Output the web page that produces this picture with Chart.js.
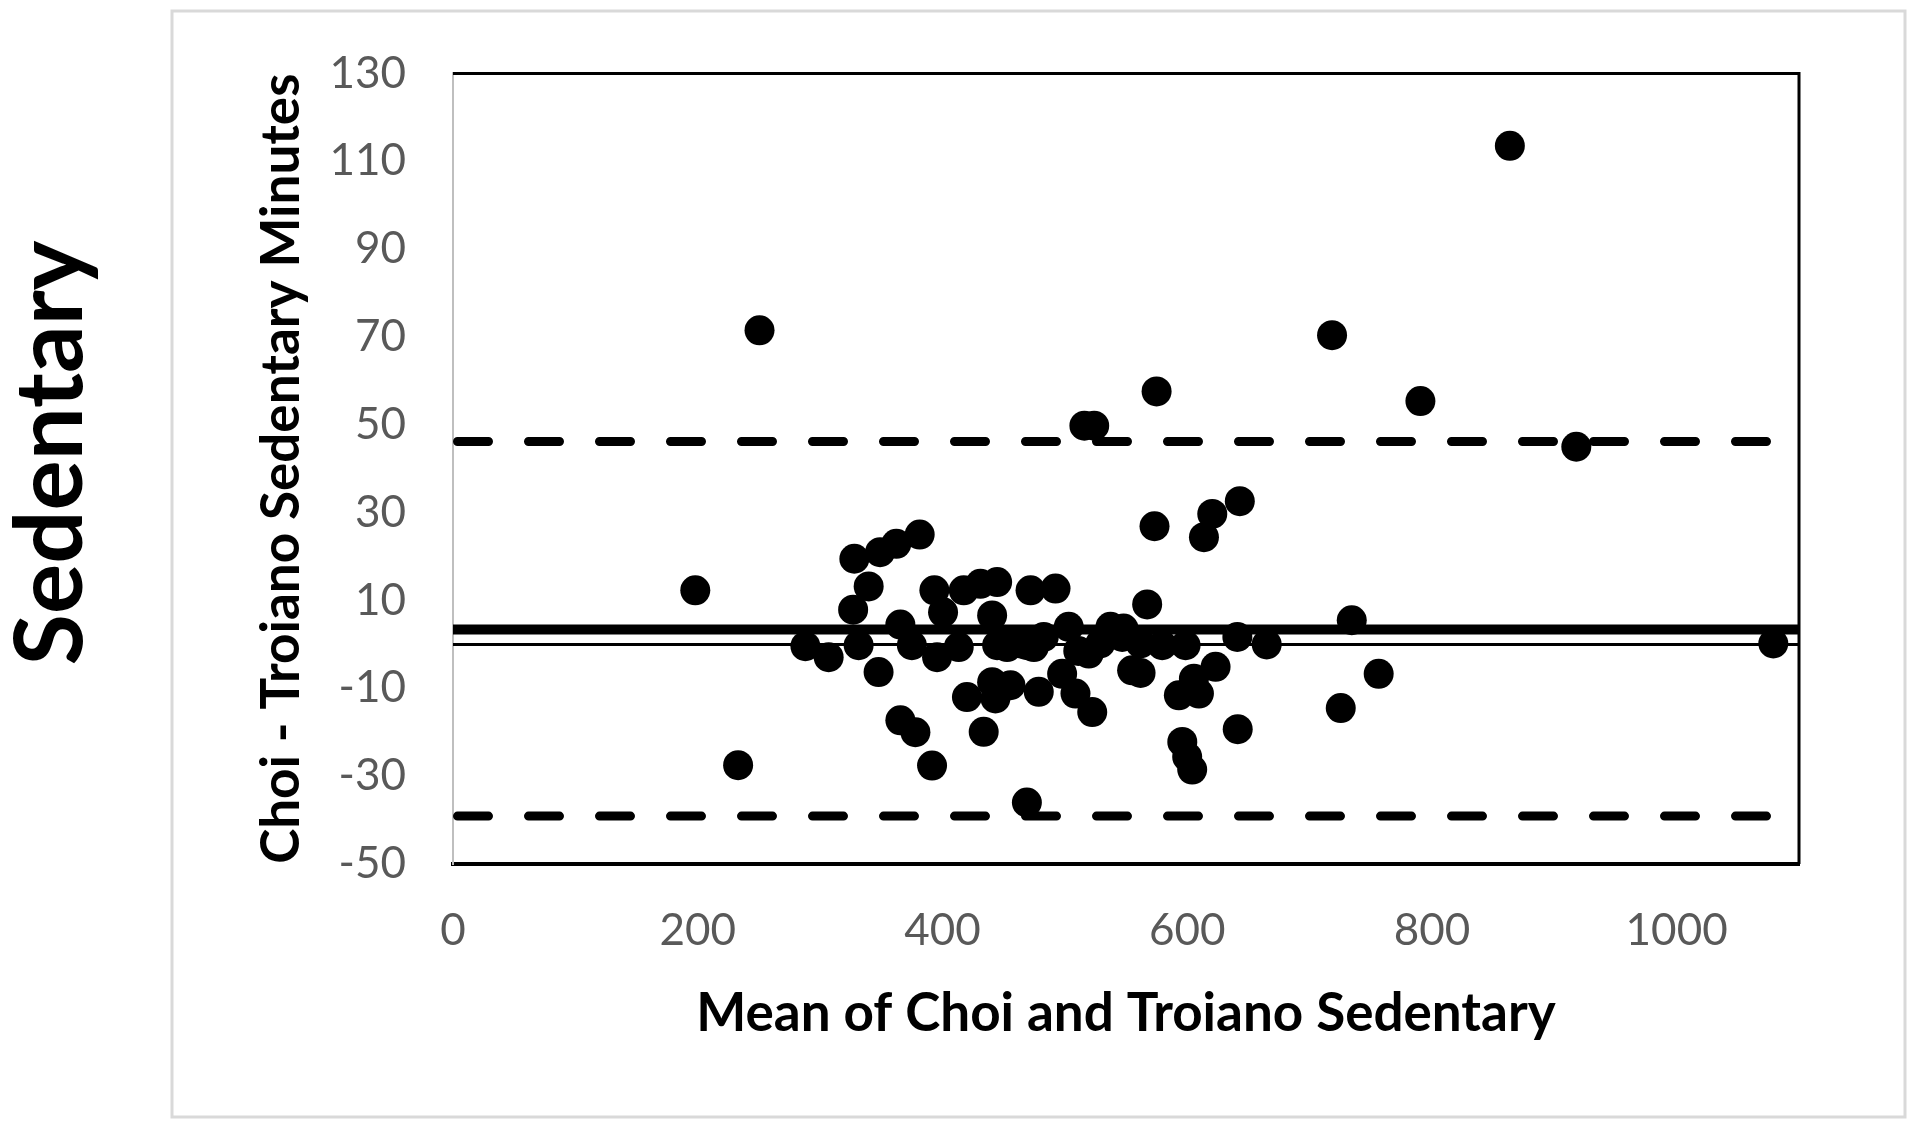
<!DOCTYPE html>
<html>
<head>
<meta charset="utf-8">
<title>Sedentary Bland-Altman</title>
<script src="https://cdn.jsdelivr.net/npm/chart.js@4.4.1/dist/chart.umd.min.js"></script>
<style>
  body { margin: 0; background: #fff; }
  #chart1 { display: block; }
</style>
</head>
<body>
<canvas id="chart1" width="1920" height="1127"></canvas>
<script>
// mean of the two methods (x) and their difference (y)
var meanValues = [198, 233, 250.5, 288, 307, 327, 328, 331.5, 339.7, 347.8,
  349, 362.3, 365.6, 365.6, 375, 377.9, 381.4, 391.5, 393.4, 395.6,
  400.5, 413.3, 417.4, 420, 431, 433.7, 440.6, 440.6, 443.3, 444.7,
  444.7, 452.8, 455.6, 463.7, 469.2, 469, 472, 474.7, 478.7, 482.8,
  492.4, 497.8, 503.2, 508.7, 511, 516, 519.6, 522.4, 524, 529,
  537.3, 546.9, 548, 555, 561.9, 561.9, 567.3, 573.3, 575, 579.6,
  593.2, 596, 598.7, 600, 604.1, 605.5, 609.6, 613.7, 620.5, 623.2,
  641, 641.3, 643, 665, 718.4, 725.5, 734.5, 756.5, 790.6, 863.7,
  918, 1079]
var diffValues = [12.3, -27.5, 71.5, -0.4, -2.9, 7.9, 19.5, -0.2, 13.2, -6.3,
  21, 22.9, 4.5, -17.3, -0.2, -20, 25, -27.6, 12.3, -2.9,
  7.3, -0.6, 12.3, -12, 13.8, -19.9, 6.6, -8.6, -12.3, 14.2,
  -0.2, -0.6, -9.3, 0.2, -0.2, -36, 12.3, -0.6, -10.8, 1.7,
  12.7, -6.7, 4, -11.2, -1.5, 49.8, -2.1, -15.4, 49.8, 0.2,
  4, 1.7, 3.6, -5.9, 0.2, -6.5, 9.1, 26.9, 57.6, -0.2,
  -11.6, -22.2, -0.2, -25.6, -28.5, -7.8, -11.2, 24.4, 29.7, -5.1,
  1.7, -19.3, 32.6, 0, 70.4, -14.5, 5.5, -6.7, 55.4, 113.5,
  45, 0.2]

var meanDiff = 3.4
var upperLimit = 46.2
var lowerLimit = -39.1
var xRange = [0, 1100]
var yRange = [-50, 130]

var points = []
for (var i = 0; i < meanValues.length; i++) {
  points.push({ x: meanValues[i], y: diffValues[i] })
}

function hline(v) {
  return [{ x: xRange[0], y: v }, { x: xRange[1], y: v }]
}

const fontFam = 'Lato, "Open Sans", sans-serif'

// outer frame, side label and the top/right edges of the plot box
const framePlugin = {
  id: 'frame',
  beforeDraw: function(chart) {
    const ctx = chart.ctx
    ctx.save()
    ctx.fillStyle = '#fff'
    ctx.fillRect(0, 0, chart.width, chart.height)
    ctx.strokeStyle = '#d9d9d9'
    ctx.lineWidth = 3
    ctx.strokeRect(172, 11, 1733, 1106)

    ctx.translate(82, 453)
    ctx.rotate(-Math.PI / 2)
    ctx.fillStyle = '#000'
    ctx.font = 'bold 94px ' + fontFam
    ctx.textAlign = 'center'
    ctx.textBaseline = 'alphabetic'
    ctx.fillText('Sedentary', 0, 0)
    ctx.restore()
  },
  afterDraw: function(chart) {
    const ctx = chart.ctx
    const a = chart.chartArea
    ctx.save()
    ctx.strokeStyle = '#000'
    ctx.lineWidth = 3
    ctx.beginPath()
    ctx.moveTo(a.left, a.top)
    ctx.lineTo(a.right, a.top)
    ctx.lineTo(a.right, a.bottom)
    ctx.stroke()
    ctx.restore()
  }
}

const data = {
  datasets: [
    {
      label: 'Differences',
      data: points,
      pointRadius: 15,
      pointHoverRadius: 15,
      pointBorderWidth: 0,
      backgroundColor: '#000',
      borderColor: '#000',
      showLine: false,
      clip: false,
      order: 0
    },
    {
      label: 'Mean',
      data: hline(meanDiff),
      showLine: true,
      pointRadius: 0,
      borderColor: '#000',
      borderWidth: 10,
      order: 1
    },
    {
      label: 'Zero',
      data: hline(0),
      showLine: true,
      pointRadius: 0,
      borderColor: '#000',
      borderWidth: 3,
      order: 1
    },
    {
      label: 'Upper limit',
      data: hline(upperLimit),
      showLine: true,
      pointRadius: 0,
      borderColor: '#000',
      borderWidth: 9,
      borderDash: [31, 40],
      borderDashOffset: -4.5,
      borderCapStyle: 'round',
      order: 1
    },
    {
      label: 'Lower limit',
      data: hline(lowerLimit),
      showLine: true,
      pointRadius: 0,
      borderColor: '#000',
      borderWidth: 9,
      borderDash: [31, 40],
      borderDashOffset: -4.5,
      borderCapStyle: 'round',
      order: 1
    }
  ]
}

const config = {
  type: 'scatter',
  data: data,
  options: {
    responsive: false,
    animation: false,
    devicePixelRatio: 1,
    layout: { padding: { left: 200, top: 72, right: 121, bottom: 0 } },
    plugins: {
      legend: { display: false },
      tooltip: { enabled: false }
    },
    scales: {
      x: {
        type: 'linear',
        min: xRange[0],
        max: xRange[1],
        grid: { display: false, drawTicks: false },
        border: { display: true, color: '#000', width: 4 },
        ticks: {
          stepSize: 200,
          includeBounds: false,
          padding: 40,
          color: '#595959',
          font: { family: fontFam, size: 44 },
          callback: function(v) { return String(v) }
        },
        title: {
          display: true,
          text: 'Mean of Choi and Troiano Sedentary',
          color: '#000',
          font: { family: fontFam, size: 53, weight: 'bold' },
          padding: { top: 0, bottom: 81 }
        },
        afterFit: function(scale) { scale.height = 263 }
      },
      y: {
        type: 'linear',
        min: yRange[0],
        max: yRange[1],
        grid: { display: false, drawTicks: false },
        border: { display: true, color: '#bfbfbf', width: 2 },
        ticks: {
          stepSize: 20,
          padding: 47,
          color: '#595959',
          font: { family: fontFam, size: 44 },
          callback: function(v) { return String(v) }
        },
        title: {
          display: true,
          text: 'Choi - Troiano Sedentary Minutes',
          color: '#000',
          font: { family: fontFam, size: 53, weight: 'bold' },
          padding: { top: 50, bottom: 0 }
        },
        afterFit: function(scale) { scale.width = 253 }
      }
    }
  },
  plugins: [framePlugin]
}

const myChart = new Chart(document.getElementById('chart1').getContext('2d'), config)
</script>
</body>
</html>
